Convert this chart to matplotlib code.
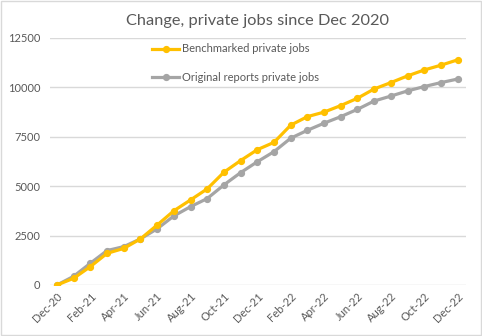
import matplotlib.pyplot as plt
from matplotlib.patches import Rectangle

months = ["Dec-20", "Jan-21", "Feb-21", "Mar-21", "Apr-21", "May-21", "Jun-21",
          "Jul-21", "Aug-21", "Sep-21", "Oct-21", "Nov-21", "Dec-21",
          "Jan-22", "Feb-22", "Mar-22", "Apr-22", "May-22", "Jun-22",
          "Jul-22", "Aug-22", "Sep-22", "Oct-22", "Nov-22", "Dec-22"]

benchmarked = [0, 340, 930, 1600, 1850, 2330, 3030, 3750, 4300, 4860, 5700, 6290,
               6840, 7210, 8080, 8510, 8740, 9070, 9440, 9910, 10230, 10570,
               10870, 11110, 11380]
original = [0, 440, 1100, 1740, 1940, 2330, 2840, 3490, 3960, 4370, 5060, 5680,
            6230, 6740, 7420, 7820, 8180, 8510, 8880, 9300, 9550, 9810,
            10030, 10230, 10410]

x = list(range(len(months)))
text_color = "#595959"
font = "Lato"

fig = plt.figure(figsize=(4.82, 3.36), dpi=100)
ax = fig.add_axes([0.1037, 0.1518, 0.8631, 0.736])

ax.plot(x, benchmarked, color="#FFC000", lw=2.3, marker="o", ms=4.2,
        label="Benchmarked private jobs", zorder=3)
ax.plot(x, original, color="#A5A5A5", lw=2.3, marker="o", ms=4.2,
        label="Original reports private jobs", zorder=2)

ax.set_xlim(-0.42, 24.5)
ax.set_ylim(0, 12500)
ax.set_yticks([0, 2500, 5000, 7500, 10000, 12500])
ax.set_xticks(x[::2])
ax.set_xticklabels(months[::2], rotation=45, ha="right", rotation_mode="anchor",
                   fontsize=8, color=text_color, family=font)
for lab in ax.get_yticklabels():
    lab.set_fontsize(8)
    lab.set_color(text_color)
    lab.set_family(font)

ax.grid(axis="y", color="#D9D9D9", lw=1)
ax.set_axisbelow(True)
for s in ax.spines.values():
    s.set_visible(False)
ax.tick_params(length=0, pad=7)
ax.tick_params(axis="x", pad=4)

ax.legend(loc="upper left", bbox_to_anchor=(0.222, 1.017), frameon=False,
          labelspacing=1.55, handlelength=2.4, handletextpad=0.25,
          prop={"family": font, "size": 8}, labelcolor=text_color)

fig.text(0.535, 0.937, "Change, private jobs since Dec 2020", ha="center",
         va="center", fontsize=11.8, color=text_color, family=font)

fig.patches.append(Rectangle((0.002, 0.003), 0.995, 0.993, transform=fig.transFigure,
                             fill=False, edgecolor="#D9D9D9", lw=1))

fig.savefig("out.png", dpi=100)
